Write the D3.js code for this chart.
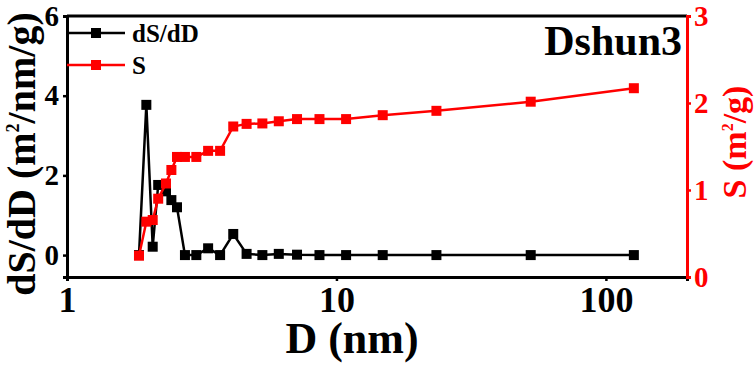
<!DOCTYPE html>
<html>
<head>
<meta charset="utf-8">
<script src="https://cdn.jsdelivr.net/npm/d3@7"></script>
<style>
  html, body { margin: 0; padding: 0; background: #fff; }
  svg text { font-family: "Liberation Serif", "Times New Roman", serif; font-weight: bold; }
</style>
</head>
<body>
<svg id="chart" width="756" height="366"></svg>
<script>
// pore diameter (nm)
const diameters = [1.85, 1.97, 2.08, 2.18, 2.33, 2.44, 2.56, 2.74, 3.02, 3.34, 3.70,
  4.14, 4.64, 5.31, 6.11, 7.14, 8.65, 10.86, 14.85, 23.5, 52.6, 127];
// dS/dD (m2/nm/g), left axis
const dSdD = [0, 3.77, 0.21, 1.76, 1.6, 1.38, 1.2, 0, 0, 0.17, 0,
  0.53, 0.03, 0, 0.03, 0.01, 0, 0, 0, 0, 0, 0];
// cumulative S (m2/g), right axis
const cumS = [0.245, 0.636, 0.655, 0.90, 1.075, 1.23, 1.38, 1.38, 1.38, 1.45, 1.45,
  1.73, 1.76, 1.765, 1.79, 1.815, 1.815, 1.815, 1.86, 1.91, 2.015, 2.17];

const xTicks = [1, 10, 100];
const leftTicks = [0, 2, 4, 6];
const rightTicks = [0, 1, 2, 3];

const svg = d3.select("#chart");
const plotL = 67, plotR = 687, plotT = 16, plotB = 277;

const x = d3.scaleLog().domain([1, 200]).range([plotL, plotR]);
const yL = d3.scaleLinear().domain([-0.55, 6]).range([plotB, plotT]);
const yR = d3.scaleLinear().domain([0, 3]).range([plotB, plotT]);

const red = "#ff0000";
const fmt = d3.format("d");

// top frame line
svg.append("line").attr("x1", plotL).attr("x2", plotR).attr("y1", plotT).attr("y2", plotT)
  .attr("stroke", "#000").attr("stroke-width", 3);

// bottom axis
const xAxis = svg.append("g")
  .attr("transform", `translate(0,${plotB})`)
  .call(d3.axisBottom(x).tickValues(xTicks).tickFormat(fmt).tickSizeOuter(0).tickSize(4).tickPadding(5));
xAxis.select(".domain").attr("stroke", "#000").attr("stroke-width", 3);
xAxis.selectAll(".tick line").attr("stroke-width", 2.5);
xAxis.selectAll("text").attr("font-size", 36).attr("fill", "#000");

// left axis
const lAxis = svg.append("g")
  .attr("transform", `translate(${plotL},0)`)
  .call(d3.axisLeft(yL).tickValues(leftTicks).tickFormat(fmt).tickSizeOuter(0).tickSize(4).tickPadding(4));
lAxis.select(".domain").attr("stroke", "#000").attr("stroke-width", 3);
lAxis.selectAll(".tick line").attr("stroke-width", 2.5);
lAxis.selectAll("text").attr("font-size", 29).attr("fill", "#000");

// right axis (red)
const rAxis = svg.append("g")
  .attr("transform", `translate(${plotR},0)`)
  .call(d3.axisRight(yR).tickValues(rightTicks).tickFormat(fmt).tickSizeOuter(0).tickSize(4).tickPadding(3));
rAxis.select(".domain").attr("stroke", red).attr("stroke-width", 3);
rAxis.selectAll(".tick line").attr("stroke", red).attr("stroke-width", 2.5);
rAxis.selectAll("text").attr("font-size", 29).attr("fill", red);

// series
function drawSeries(values, yScale, color) {
  const pts = diameters.map((d, i) => [x(d), yScale(values[i])]);
  svg.append("path")
    .attr("d", d3.line()(pts))
    .attr("fill", "none")
    .attr("stroke", color)
    .attr("stroke-width", 2.5);
  svg.append("g").selectAll("rect")
    .data(pts)
    .enter()
    .append("rect")
      .attr("x", d => d[0] - 5)
      .attr("y", d => d[1] - 5)
      .attr("width", 10)
      .attr("height", 10)
      .attr("fill", color);
}
drawSeries(dSdD, yL, "#000");
drawSeries(cumS, yR, red);

// legend
const legend = [{ name: "dS/dD", color: "#000" }, { name: "S", color: red }];
legend.forEach((d, i) => {
  const ly = 33 + i * 32;
  svg.append("line").attr("x1", plotL).attr("x2", 125).attr("y1", ly).attr("y2", ly)
    .attr("stroke", d.color).attr("stroke-width", 2.5);
  svg.append("rect").attr("x", 91).attr("y", ly - 5).attr("width", 10).attr("height", 10)
    .attr("fill", d.color);
  svg.append("text").attr("x", 132).attr("y", ly).attr("dy", "0.35em")
    .attr("font-size", 25).attr("fill", "#000").text(d.name);
});

// sample name
svg.append("text").attr("x", 682).attr("y", 55).attr("text-anchor", "end")
  .attr("font-size", 42).attr("fill", "#000").text("Dshun3");

// axis titles
svg.append("text").attr("x", 352).attr("y", 353).attr("text-anchor", "middle")
  .attr("font-size", 44).attr("fill", "#000").text("D (nm)");

const lt = svg.append("text")
  .attr("transform", "translate(35,154) rotate(-90)")
  .attr("text-anchor", "middle").attr("font-size", 40).attr("fill", "#000");
lt.append("tspan").text("dS/dD (m");
lt.append("tspan").attr("font-size", 18).attr("dy", -16).text("2");
lt.append("tspan").attr("dy", 16).text("/nm/g)");

const rt = svg.append("text")
  .attr("transform", "translate(746,142) rotate(-90)")
  .attr("text-anchor", "middle").attr("font-size", 34).attr("fill", red);
rt.append("tspan").text("S (m");
rt.append("tspan").attr("font-size", 16).attr("dy", -13).text("2");
rt.append("tspan").attr("dy", 13).text("/g)");
</script>
</body>
</html>
